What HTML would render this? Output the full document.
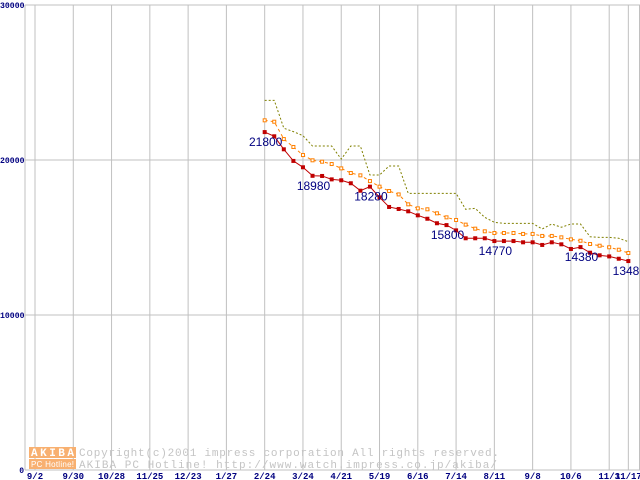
<!DOCTYPE html>
<html><head><meta charset="utf-8"><style>
html,body{margin:0;padding:0;background:#fff;}
svg{display:block;}
</style></head><body>
<svg id="chart" width="640" height="480" xmlns="http://www.w3.org/2000/svg">
<g id="grid"></g>
<g id="watermark">
  <rect x="29" y="447" width="47" height="11" fill="#f8b070"/>
  <rect x="29" y="459" width="47" height="10" fill="#f8b070"/>
  <text x="31" y="456" font-family="Liberation Mono, monospace" font-size="11" fill="#fff" font-weight="bold" textLength="43">AKIBA</text>
  <text x="31" y="467" font-family="Liberation Sans, sans-serif" font-size="8" fill="#fff" textLength="43">PC Hotline!</text>
  <text x="79" y="456" font-family="Liberation Mono, monospace" font-size="11" fill="#c4c4c4" textLength="420">Copyright(c)2001 impress corporation All rights reserved.</text>
  <text x="79" y="468" font-family="Liberation Mono, monospace" font-size="11" fill="#c4c4c4" textLength="418">AKIBA PC Hotline!  http://www.watch.impress.co.jp/akiba/</text>
</g>
<g id="axes"></g>
<g id="series"></g>
<g id="labels"></g>
</svg>
<script>
const xTickLabels = ["9/2","9/30","10/28","11/25","12/23","1/27","2/24","3/24","4/21","5/19","6/16","7/14","8/11","9/8","10/6","11/3","11/17"];
const xTickWeeks = [0,4,8,12,16,20,24,28,32,36,40,44,48,52,56,60,62];
const yTicks = [0,10000,20000,30000];
const dataStartWeek = 24;
const minPrice = [21800,21530,20690,19940,19530,18980,18970,18750,18690,18500,18020,18280,17590,16970,16840,16690,16430,16210,15920,15800,15460,14950,14950,14950,14770,14770,14770,14690,14690,14520,14690,14560,14260,14380,14020,13850,13780,13630,13480];
const avgPrice = [22560,22470,21350,20840,20320,19980,19890,19740,19460,19160,19010,18640,18280,18000,17780,17140,16880,16820,16560,16300,16130,15830,15570,15400,15290,15290,15290,15230,15230,15100,15100,15010,14880,14790,14580,14470,14370,14210,14000];
const maxPrice = [23850,23850,22050,21830,21570,20900,20900,20900,20060,20900,20900,19030,19030,19610,19610,17850,17850,17850,17850,17850,17850,16820,16880,16300,15980,15910,15910,15910,15910,15550,15870,15660,15870,15870,15050,15010,15010,14950,14730];
const labelIdx = [0,5,11,19,24,33,38];

const NS="http://www.w3.org/2000/svg";
const X0=35, PXW=9.57, LEFT=25, RIGHT=640, YBOT=470, PXV=0.0155;
function xW(w){return X0+w*PXW;}
function xI(i){return xW(dataStartWeek+i);}
function yV(v){return YBOT-v*PXV;}
function mk(tag,attrs,parent){const e=document.createElementNS(NS,tag);for(const k in attrs)e.setAttribute(k,attrs[k]);parent.appendChild(e);return e;}
const grid=document.getElementById('grid'),axes=document.getElementById('axes'),series=document.getElementById('series'),labels=document.getElementById('labels');

xTickWeeks.forEach((w,i)=>{
  const l=mk('line',{x1:xW(w),x2:xW(w),y1:yV(30000),y2:YBOT,stroke:'#c0c0c0','stroke-width':1},grid);
  
  
  const t=mk('text',{x:xW(w),y:479,'text-anchor':'middle','font-family':'Liberation Mono, monospace','font-size':9,'font-weight':'bold',fill:'#000080'},axes);
  t.textContent=xTickLabels[i];
  
  
});
const rl=mk('line',{x1:639.5,x2:639.5,y1:yV(30000),y2:YBOT,stroke:'#c0c0c0'},grid);


const ll=mk('line',{x1:LEFT,x2:LEFT,y1:yV(30000),y2:YBOT,stroke:'#c0c0c0'},grid);


yTicks.forEach(v=>{
  const l=mk('line',{x1:LEFT,x2:RIGHT,y1:yV(v),y2:yV(v),stroke:'#c0c0c0'},grid);
  
  
  const s=String(v);
  const attrs={x:24,y:yV(v)+3,'text-anchor':'end','font-family':'Liberation Mono, monospace','font-size':8,'font-weight':'bold',fill:'#000080'};
  if(s.length>1){attrs.x=0;attrs['text-anchor']='start';attrs.textLength=s.length*4.9;attrs.lengthAdjust='spacingAndGlyphs';}
  const t=mk('text',attrs,axes);
  t.textContent=s;
  
  
});

function pts(arr){return arr.map((v,i)=>xI(i)+','+yV(v)).join(' ');}
const pMax=mk('polyline',{points:pts(maxPrice),fill:'none',stroke:'#808000','stroke-width':1,'stroke-dasharray':'2,2'},series);


const pAvg=mk('polyline',{points:pts(avgPrice),fill:'none',stroke:'#ff8000','stroke-width':1,'stroke-dasharray':'3,3'},series);


avgPrice.forEach((v,i)=>{
  const r=mk('rect',{x:xI(i)-1.5,y:yV(v)-1.5,width:3,height:3,fill:'#fff',stroke:'#ff8000','stroke-width':1},series);
  
  
});
const pMin=mk('polyline',{points:pts(minPrice),fill:'none',stroke:'#c00000','stroke-width':1},series);


minPrice.forEach((v,i)=>{
  const r=mk('rect',{x:xI(i)-2,y:yV(v)-2,width:4,height:4,fill:'#c00000'},series);
  
  
});
labelIdx.forEach(i=>{
  const t=mk('text',{x:xI(i)+1,y:yV(minPrice[i])+14,'text-anchor':'middle','font-family':'Liberation Sans, sans-serif','font-size':12,fill:'#000080'},labels);
  t.textContent=String(minPrice[i]);
  
  
});
</script>
</body></html>
